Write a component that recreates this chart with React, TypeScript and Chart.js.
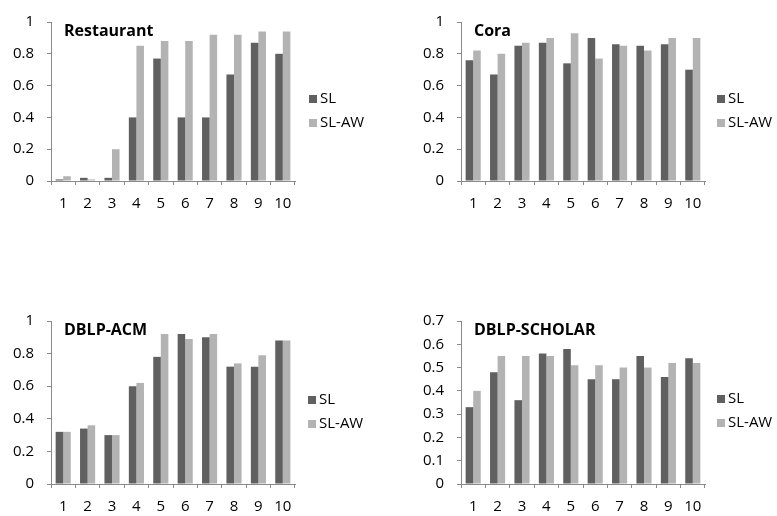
import { useEffect, useRef } from "react";
import { Chart, registerables } from "chart.js";

Chart.register(...registerables);

const categories = ["1", "2", "3", "4", "5", "6", "7", "8", "9", "10"];
const seriesNames = ["SL", "SL-AW"];

const restaurantSL = [0.01, 0.02, 0.02, 0.4, 0.77, 0.4, 0.4, 0.67, 0.87, 0.8];
const restaurantSLAW = [0.03, 0.01, 0.2, 0.85, 0.88, 0.88, 0.92, 0.92, 0.94, 0.94];

const coraSL = [0.76, 0.67, 0.85, 0.87, 0.74, 0.9, 0.86, 0.85, 0.86, 0.7];
const coraSLAW = [0.82, 0.8, 0.87, 0.9, 0.93, 0.77, 0.85, 0.82, 0.9, 0.9];

const acmSL = [0.32, 0.34, 0.3, 0.6, 0.78, 0.92, 0.9, 0.72, 0.72, 0.88];
const acmSLAW = [0.32, 0.36, 0.3, 0.62, 0.92, 0.89, 0.92, 0.74, 0.79, 0.88];

const scholarSL = [0.33, 0.48, 0.36, 0.56, 0.58, 0.45, 0.45, 0.55, 0.46, 0.54];
const scholarSLAW = [0.4, 0.55, 0.55, 0.55, 0.51, 0.51, 0.5, 0.5, 0.52, 0.52];

const titles = ["Restaurant", "Cora", "DBLP-ACM", "DBLP-SCHOLAR"];
const yMaxes = [1, 1, 1, 0.7];
const ySteps = [0.2, 0.2, 0.2, 0.1];

const DARK = "#606060";
const LIGHT = "#b3b3b3";
const AXIS = "#8a8a8a";
const FONT = "'Open Sans', Lato, sans-serif";

type Panel = {
  title: string;
  sl: number[];
  slaw: number[];
  yMax: number;
  yStep: number;
  x: number;
  y: number;
  w: number;
  h: number;
  area: { left: number; right: number; top: number; bottom: number };
  legendX: number;
  legendY: number;
};

const panels: Panel[] = [
  {
    title: titles[0], sl: restaurantSL, slaw: restaurantSLAW, yMax: yMaxes[0], yStep: ySteps[0],
    x: 0, y: 0, w: 390, h: 258,
    area: { left: 51, right: 295, top: 16, bottom: 181 },
    legendX: 309, legendY: 99,
  },
  {
    title: titles[1], sl: coraSL, slaw: coraSLAW, yMax: yMaxes[1], yStep: ySteps[1],
    x: 390, y: 0, w: 387, h: 258,
    area: { left: 71, right: 315, top: 16, bottom: 181 },
    legendX: 327, legendY: 99,
  },
  {
    title: titles[2], sl: acmSL, slaw: acmSLAW, yMax: yMaxes[2], yStep: ySteps[2],
    x: 0, y: 258, w: 390, h: 258,
    area: { left: 51, right: 295, top: 63, bottom: 226 },
    legendX: 308, legendY: 142,
  },
  {
    title: titles[3], sl: scholarSL, slaw: scholarSLAW, yMax: yMaxes[3], yStep: ySteps[3],
    x: 390, y: 258, w: 387, h: 258,
    area: { left: 71, right: 315, top: 63, bottom: 226 },
    legendX: 327, legendY: 141,
  },
];

const overlayPlugin = {
  id: "overlay",
  afterDraw(chart: any, _args: any, opts: any) {
    const ctx = chart.ctx as CanvasRenderingContext2D;
    const area = chart.chartArea;
    ctx.save();
    ctx.fillStyle = "#000";
    ctx.textBaseline = "middle";
    ctx.textAlign = "left";
    ctx.font = `bold 16px ${FONT}`;
    ctx.fillText(opts.title, area.left + 13, area.top + 9);
    ctx.font = `15px ${FONT}`;
    chart.data.datasets.forEach((ds: any, i: number) => {
      const cy = opts.legendY + i * 24;
      ctx.fillStyle = ds.backgroundColor;
      ctx.fillRect(opts.legendX, cy - 4, 8, 8);
      ctx.fillStyle = "#000";
      ctx.fillText(ds.label, opts.legendX + 11, cy);
    });
    ctx.restore();
  },
};

function PanelChart({ p }: { p: Panel }) {
  const ref = useRef<HTMLCanvasElement | null>(null);
  useEffect(() => {
    if (!ref.current) return;
    const yW = 50;
    const xH = 30;
    const chart = new Chart(ref.current, {
      type: "bar",
      data: {
        labels: categories,
        datasets: [
          { label: seriesNames[0], data: p.sl, backgroundColor: DARK, borderWidth: 0 },
          { label: seriesNames[1], data: p.slaw, backgroundColor: LIGHT, borderWidth: 0 },
        ],
      },
      plugins: [overlayPlugin],
      options: {
        animation: false,
        responsive: false,
        devicePixelRatio: 1,
        layout: {
          padding: {
            left: p.area.left - yW,
            right: p.w - p.area.right,
            top: p.area.top,
            bottom: p.h - p.area.bottom - xH,
          },
        },
        datasets: { bar: { categoryPercentage: 0.62, barPercentage: 1 } },
        plugins: {
          legend: { display: false },
          tooltip: { enabled: false },
          overlay: { title: p.title, legendX: p.legendX, legendY: p.legendY },
        } as any,
        scales: {
          x: {
            afterFit: (s: any) => { s.height = xH; },
            grid: { offset: true, drawOnChartArea: false, drawTicks: true, tickLength: 4, color: AXIS },
            border: { color: AXIS },
            ticks: { color: "#000", font: { family: FONT, size: 15 }, padding: 10, maxRotation: 0 },
          },
          y: {
            min: 0,
            max: p.yMax,
            afterFit: (s: any) => { s.width = yW; },
            grid: { drawOnChartArea: false, drawTicks: true, tickLength: 4, color: AXIS },
            border: { color: AXIS },
            ticks: {
              stepSize: p.yStep,
              color: "#000",
              font: { family: FONT, size: 15 },
              padding: 13,
              callback: (v: any) => String(Math.round(Number(v) * 10) / 10),
            },
          },
        },
      },
    });
    return () => chart.destroy();
  }, [p]);
  return (
    <canvas
      ref={ref}
      width={p.w}
      height={p.h}
      style={{ position: "absolute", left: p.x, top: p.y, width: p.w, height: p.h }}
    />
  );
}

export default function App() {
  return (
    <div style={{ position: "fixed", left: 0, top: 0, width: 777, height: 516, background: "#fff", overflow: "hidden" }}>
      {panels.map((p, i) => (
        <PanelChart key={i} p={p} />
      ))}
    </div>
  );
}
